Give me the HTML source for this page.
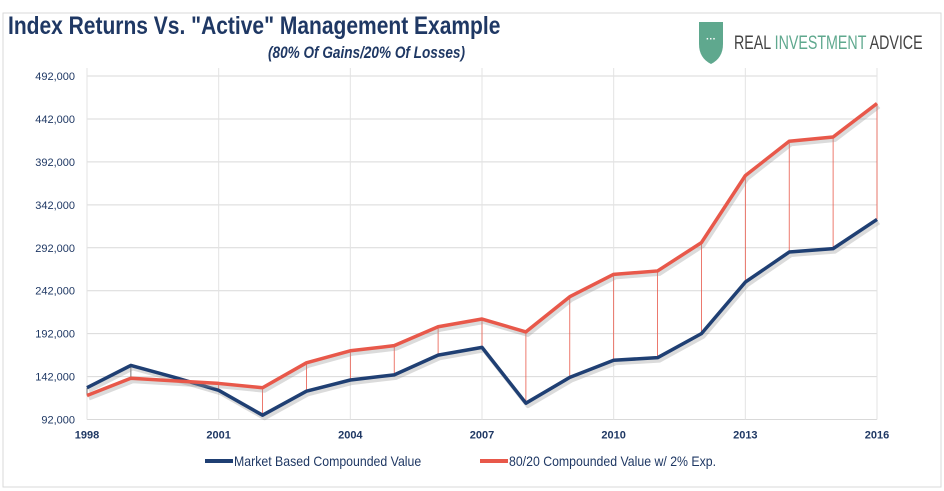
<!DOCTYPE html>
<html><head><meta charset="utf-8"><style>
body{margin:0;background:#fff;}
svg{display:block;font-family:"Liberation Sans",sans-serif;}
</style></head><body>
<svg id="chart" width="944" height="491">
<rect x="3" y="13" width="938" height="474" fill="#fff" stroke="#d9d9d9"/>
<text x="8" y="34" font-size="25" font-weight="bold" fill="#1f3864" transform="translate(8,0) scale(0.84,1) translate(-8,0)">Index Returns Vs. "Active" Management Example</text>
<text x="268" y="58" font-size="17" font-style="italic" font-weight="bold" fill="#1f3864" transform="translate(268,0) scale(0.8,1) translate(-268,0)">(80% Of Gains/20% Of Losses)</text>
<g>
<path d="M699 22 h24 v22 q0 14 -12 20 q-12 -6 -12 -20z" fill="#5fa88e"/>
<text x="711" y="42" font-size="10" fill="#fff" text-anchor="middle" font-weight="bold">···</text>
<text x="734" y="49" font-size="19" fill="#444" transform="translate(734,0) scale(0.75,1) translate(-734,0)">REAL <tspan fill="#5fa88e">INVESTMENT</tspan> ADVICE</text>
</g>
<g id="grid"></g><g id="drops"></g><g id="lines"></g><g id="axes"></g>
<g>
<line x1="205" y1="461" x2="233" y2="461" stroke="#1f3f73" stroke-width="4"/>
<text x="234" y="466" font-size="14" fill="#1f3864" transform="translate(234,0) scale(0.88,1) translate(-234,0)">Market Based Compounded Value</text>
<line x1="480" y1="461" x2="508" y2="461" stroke="#e8584a" stroke-width="4"/>
<text x="509" y="466" font-size="14" fill="#1f3864" transform="translate(509,0) scale(0.88,1) translate(-509,0)">80/20 Compounded Value w/ 2% Exp.</text>
</g>
</svg>
<script>
const years=[1998,1999,2000,2001,2002,2003,2004,2005,2006,2007,2008,2009,2010,2011,2012,2013,2014,2015,2016];
const market=[129000,155000,141000,126000,97000,125000,138000,144000,167000,176000,111000,141000,161000,164000,192000,252000,287000,291000,325000];
const active=[120000,140000,137000,134000,129000,158000,172000,178000,200000,209000,194000,235000,261000,265000,298000,376000,416000,421000,460000];
const yTicks=[92000,142000,192000,242000,292000,342000,392000,442000,492000];
const xLabels=[1998,2001,2004,2007,2010,2013,2016];
const NS='http://www.w3.org/2000/svg';
const x0=87,x1=877,yb=419.5,yt=76,ymin=92000,ymax=492000;
const X=v=>x0+(v-years[0])/(years[years.length-1]-years[0])*(x1-x0);
const Y=v=>yb-(v-ymin)/(ymax-ymin)*(yb-yt);
function mk(t,a,p){const e=document.createElementNS(NS,t);for(const k in a)e.setAttribute(k,a[k]);document.getElementById(p).appendChild(e);return e;}
yTicks.forEach(v=>{
 const l=mk('line',{x1:x0,x2:x1,y1:Y(v),y2:Y(v),stroke:'#d9d9d9','stroke-width':1},'grid');
 
 
 const t=mk('text',{x:x0-12,y:Y(v)+4,'font-size':11,fill:'#1f3864','text-anchor':'end'},'axes');
 t.textContent=v.toLocaleString('en-US');
 
 
});
xLabels.forEach(v=>{
 const l=mk('line',{x1:X(v),x2:X(v),y1:yt-8,y2:yb,stroke:'#e3e3e3','stroke-width':1},'grid');
 
 
 const t=mk('text',{x:X(v),y:yb+19,'font-size':11,'font-weight':'bold',fill:'#1f3864','text-anchor':'middle'},'axes');
 t.textContent=v;
 
 
});
years.forEach((yr,i)=>{
 const d=mk('line',{x1:X(yr),x2:X(yr),y1:Y(market[i]),y2:Y(active[i]),stroke:active[i]>=market[i]?'#e8584a':'#555','stroke-width':0.8},'drops');
 
 
});
function line(vals,color,name){
 const pts=years.map((yr,i)=>X(yr)+','+Y(vals[i])).join(' ');
 const s=mk('polyline',{points:pts,fill:'none',stroke:'#999','stroke-opacity':0.35,'stroke-width':4,transform:'translate(2,3)','stroke-linejoin':'round'},'lines');
 
 
 const p=mk('polyline',{points:pts,fill:'none',stroke:color,'stroke-width':3.5,'stroke-linejoin':'round'},'lines');
 
 
}
line(market,'#1f3f73','market-line');
line(active,'#e8584a','active-line');
</script>
</body></html>
